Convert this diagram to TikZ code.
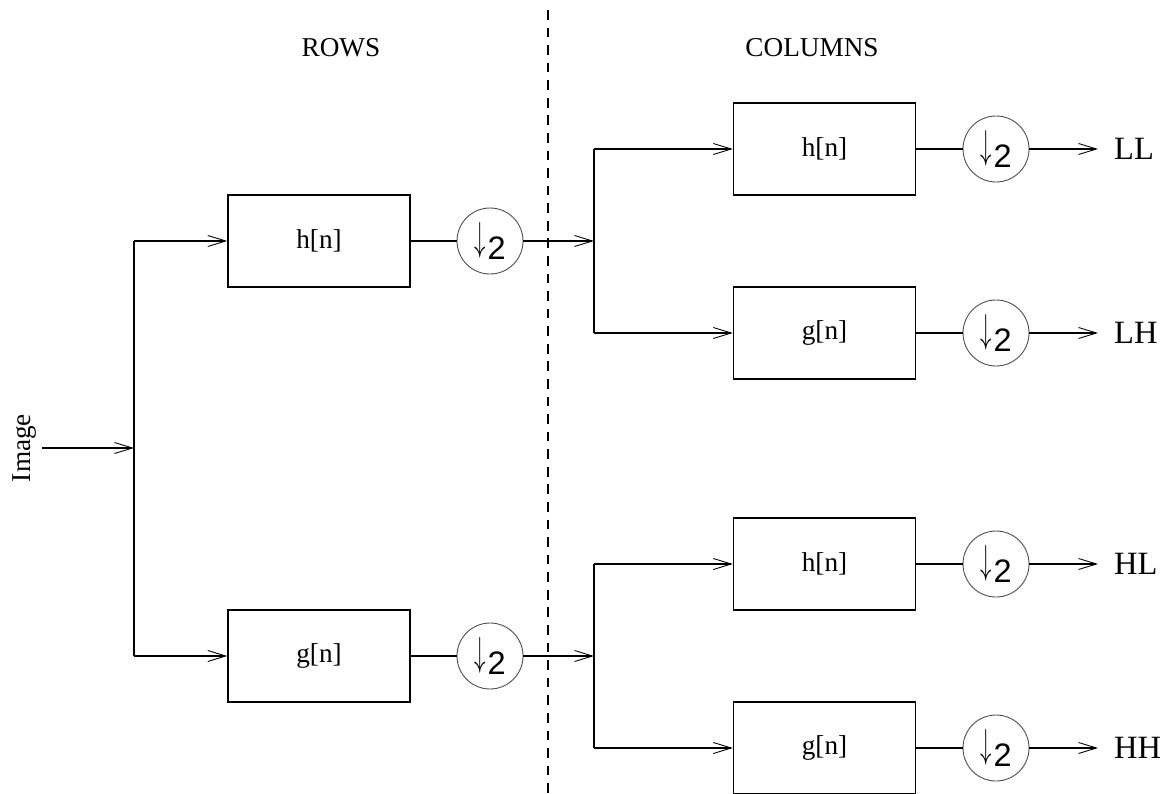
\documentclass[tikz,border=0pt]{standalone}
\usepackage{fontspec}
\setmainfont{Liberation Serif}
\setsansfont{Liberation Sans}
\usepackage{tikz}
\usetikzlibrary{calc,arrows.meta,positioning}

\tikzset{
    every node/.style={font=\fontsize{15.5}{18}\selectfont},
    filt/.style={draw, line width=0.8pt, minimum width=3.64cm, minimum height=1.84cm},
    down/.style={draw=black!70, line width=0.5pt, circle, minimum size=1.32cm, inner sep=0pt},
    outlab/.style={font=\fontsize{18.5}{21}\selectfont},
    wire/.style={line width=0.8pt},
    sig/.style={line width=0.8pt, -{Straight Barb[length=3.6mm,width=2.2mm,line width=0.5pt]}},
}
\newcommand{\dsTwo}{\raisebox{0.1ex}{\scalebox{0.9}[1.6]{$\downarrow$}}\kern1pt\raisebox{-0.6ex}{\fontsize{18.5}{20}\sffamily 2}}

\begin{document}
\begin{tikzpicture}
            \useasboundingbox (0,0) rectangle (23.3,-15.88);
            \draw[dash pattern=on 5.5pt off 4.5pt, line width=0.6pt] (10.96,-0.2) -- (10.96,-15.88);
            \node (rows) at (6.82,-0.96) {ROWS};
            \node (cols) at (16.24,-0.96) {COLUMNS};

            % rows
            \node[rotate=90] (img) at (0.5,-8.96) {Image};
            \coordinate (imgout) at (0.84,-8.96);
            \coordinate (rsplit) at (2.68,-8.96);
            \node[filt] (rh) at (6.38,-4.82) {h[n]};
            \node[filt] (rg) at (6.38,-13.12) {g[n]};
            \node[down] (rhd) at (9.8,-4.82) {\dsTwo};
            \node[down] (rgd) at (9.8,-13.12) {\dsTwo};
            \draw[sig] (imgout) -- (rsplit);
            \draw[wire] (rsplit |- rh.west) -- (rsplit |- rg.west);
            \draw[sig] (rsplit |- rh.west) -- (rh.west);
            \draw[sig] (rsplit |- rg.west) -- (rg.west);
            \draw[wire] (rh) -- (rhd);
            \draw[wire] (rg) -- (rgd);

            % columns
            \coordinate (csplit) at (11.88,-4.82);
            \node[filt] (ll) at (16.49,-2.98) {h[n]};
            \node[filt] (lh) at (16.49,-6.66) {g[n]};
            \node[filt] (hl) at (16.49,-11.28) {h[n]};
            \node[filt] (hh) at (16.49,-14.96) {g[n]};
            \draw[sig] (rhd) -- (csplit |- rhd);
            \draw[sig] (rgd) -- (csplit |- rgd);
            \draw[wire] (csplit |- ll.west) -- (csplit |- lh.west);
            \draw[wire] (csplit |- hl.west) -- (csplit |- hh.west);
            \foreach \b/\t in {ll/LL, lh/LH, hl/HL, hh/HH} {
                \draw[sig] (csplit |- \b.west) -- (\b.west);
                \node[down] (\b d) at ($(\b)+(3.43,0)$) {\dsTwo};
                \draw[wire] (\b) -- (\b d);
                \coordinate (\b o) at ($(\b d)+(2.04,0)$);
                \draw[sig] (\b d) -- (\b o);
                \node[outlab, anchor=west] (\b l) at ($(\b o)+(0.2,0)$) {\t};
            }
        \end{tikzpicture}
\end{document}
